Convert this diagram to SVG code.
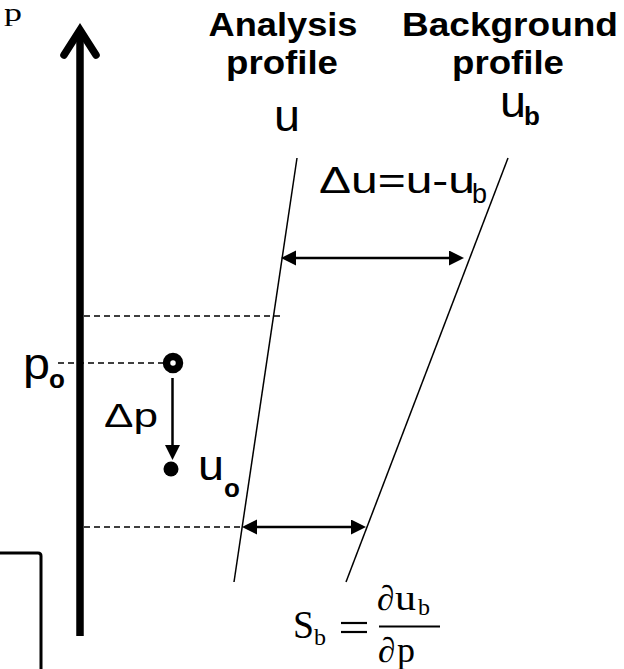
<svg xmlns="http://www.w3.org/2000/svg" width="624" height="669" viewBox="0 0 624 669">
<style>
.sans{font-family:"Liberation Sans",Arial,sans-serif;fill:#000}
.bold{font-weight:bold}
.serif{font-family:"Liberation Serif","Times New Roman",serif;fill:#000}
.prof{stroke:#000;stroke-width:1.5;fill:none}
.dash{stroke:#000;stroke-width:1.5;stroke-dasharray:6 4;fill:none}
.conn{stroke:#000;stroke-width:2.5;fill:none}
</style>
<defs>
<marker id="ah" markerUnits="userSpaceOnUse" markerWidth="16" markerHeight="16" refX="7" refY="7.5" orient="auto-start-reverse">
<path d="M0,0 L15,7.5 L0,15 z" fill="#000"/>
</marker>
</defs>
<rect width="624" height="669" fill="#fff"/>

<g id="p-axis">
<line x1="80" y1="31" x2="80" y2="636" stroke="#000" stroke-width="7.5"/>
<polyline points="64,55 80,30 96,55" fill="none" stroke="#000" stroke-width="7.5" stroke-linecap="round" stroke-linejoin="miter"/>
<text class="serif" x="4" y="21" font-size="26" textLength="18" lengthAdjust="spacingAndGlyphs">p</text>
</g>

<g id="analysis-profile">
<line class="prof" x1="297" y1="158" x2="234" y2="582"/>
<text class="sans bold" x="283" y="36" font-size="33" text-anchor="middle" textLength="149" lengthAdjust="spacingAndGlyphs">Analysis</text>
<text class="sans bold" x="282" y="74" font-size="33" text-anchor="middle" textLength="112" lengthAdjust="spacingAndGlyphs">profile</text>
<text class="sans" x="287" y="131" font-size="44" text-anchor="middle" textLength="26" lengthAdjust="spacingAndGlyphs">u</text>
</g>

<g id="background-profile">
<line class="prof" x1="508" y1="158" x2="346" y2="582"/>
<text class="sans bold" x="510" y="36" font-size="33" text-anchor="middle" textLength="216" lengthAdjust="spacingAndGlyphs">Background</text>
<text class="sans bold" x="508" y="74" font-size="33" text-anchor="middle" textLength="112" lengthAdjust="spacingAndGlyphs">profile</text>
<text class="sans" x="500" y="117" font-size="44" textLength="26" lengthAdjust="spacingAndGlyphs">u</text>
<text class="sans bold" x="524" y="125" font-size="26">b</text>
</g>

<g id="delta-u-label">
<text class="sans" x="319" y="193" font-size="37" textLength="156" lengthAdjust="spacingAndGlyphs">Δu=u-u</text>
<text class="sans" x="472" y="203" font-size="27">b</text>
</g>

<g id="obs-start">
<circle cx="173" cy="363" r="6.5" fill="#fff" stroke="#000" stroke-width="7.5"/>
<text class="sans" x="23" y="379" font-size="44" textLength="27" lengthAdjust="spacingAndGlyphs">p</text>
<text class="sans bold" x="49" y="388" font-size="26">o</text>
</g>

<g id="obs-point">
<circle cx="171" cy="469" r="7.5" fill="#000"/>
<text class="sans" x="198" y="480" font-size="42" textLength="26" lengthAdjust="spacingAndGlyphs">u</text>
<text class="sans bold" x="224" y="497" font-size="26">o</text>
</g>

<g id="delta-p-label">
<text class="sans" x="104" y="427" font-size="33" textLength="54" lengthAdjust="spacingAndGlyphs">Δp</text>
</g>

<g id="slope-formula">
<text class="serif" x="293" y="638" font-size="39" textLength="21" lengthAdjust="spacingAndGlyphs">S</text>
<text class="serif" x="314" y="645" font-size="24">b</text>
<line x1="341" y1="623" x2="367" y2="623" stroke="#000" stroke-width="2.2"/>
<line x1="341" y1="632" x2="367" y2="632" stroke="#000" stroke-width="2.2"/>
<line x1="379" y1="626.5" x2="440" y2="626.5" stroke="#000" stroke-width="2"/>
<text class="serif" x="377" y="610" font-size="35">∂</text>
<text class="serif" x="395" y="610" font-size="35" textLength="21" lengthAdjust="spacingAndGlyphs">u</text>
<text class="serif" x="418" y="615" font-size="24">b</text>
<text class="serif" x="378" y="662" font-size="35">∂</text>
<text class="serif" x="397" y="662" font-size="35" textLength="18" lengthAdjust="spacingAndGlyphs">p</text>
</g>

<g id="box">
<path d="M0,553 H38 Q41,553 41,556 V669" fill="none" stroke="#000" stroke-width="3"/>
</g>

<g id="connectors">
<line class="dash" x1="84" y1="316" x2="280" y2="316"/>
<line class="dash" x1="58" y1="363" x2="163" y2="363"/>
<line class="dash" x1="84" y1="527" x2="242" y2="527"/>
<line class="conn" x1="289" y1="258" x2="456" y2="258" marker-start="url(#ah)" marker-end="url(#ah)"/>
<line class="conn" x1="250" y1="527" x2="358" y2="527" marker-start="url(#ah)" marker-end="url(#ah)"/>
<line class="conn" x1="172.5" y1="378" x2="172.5" y2="452" marker-end="url(#ah)"/>
</g>
</svg>
